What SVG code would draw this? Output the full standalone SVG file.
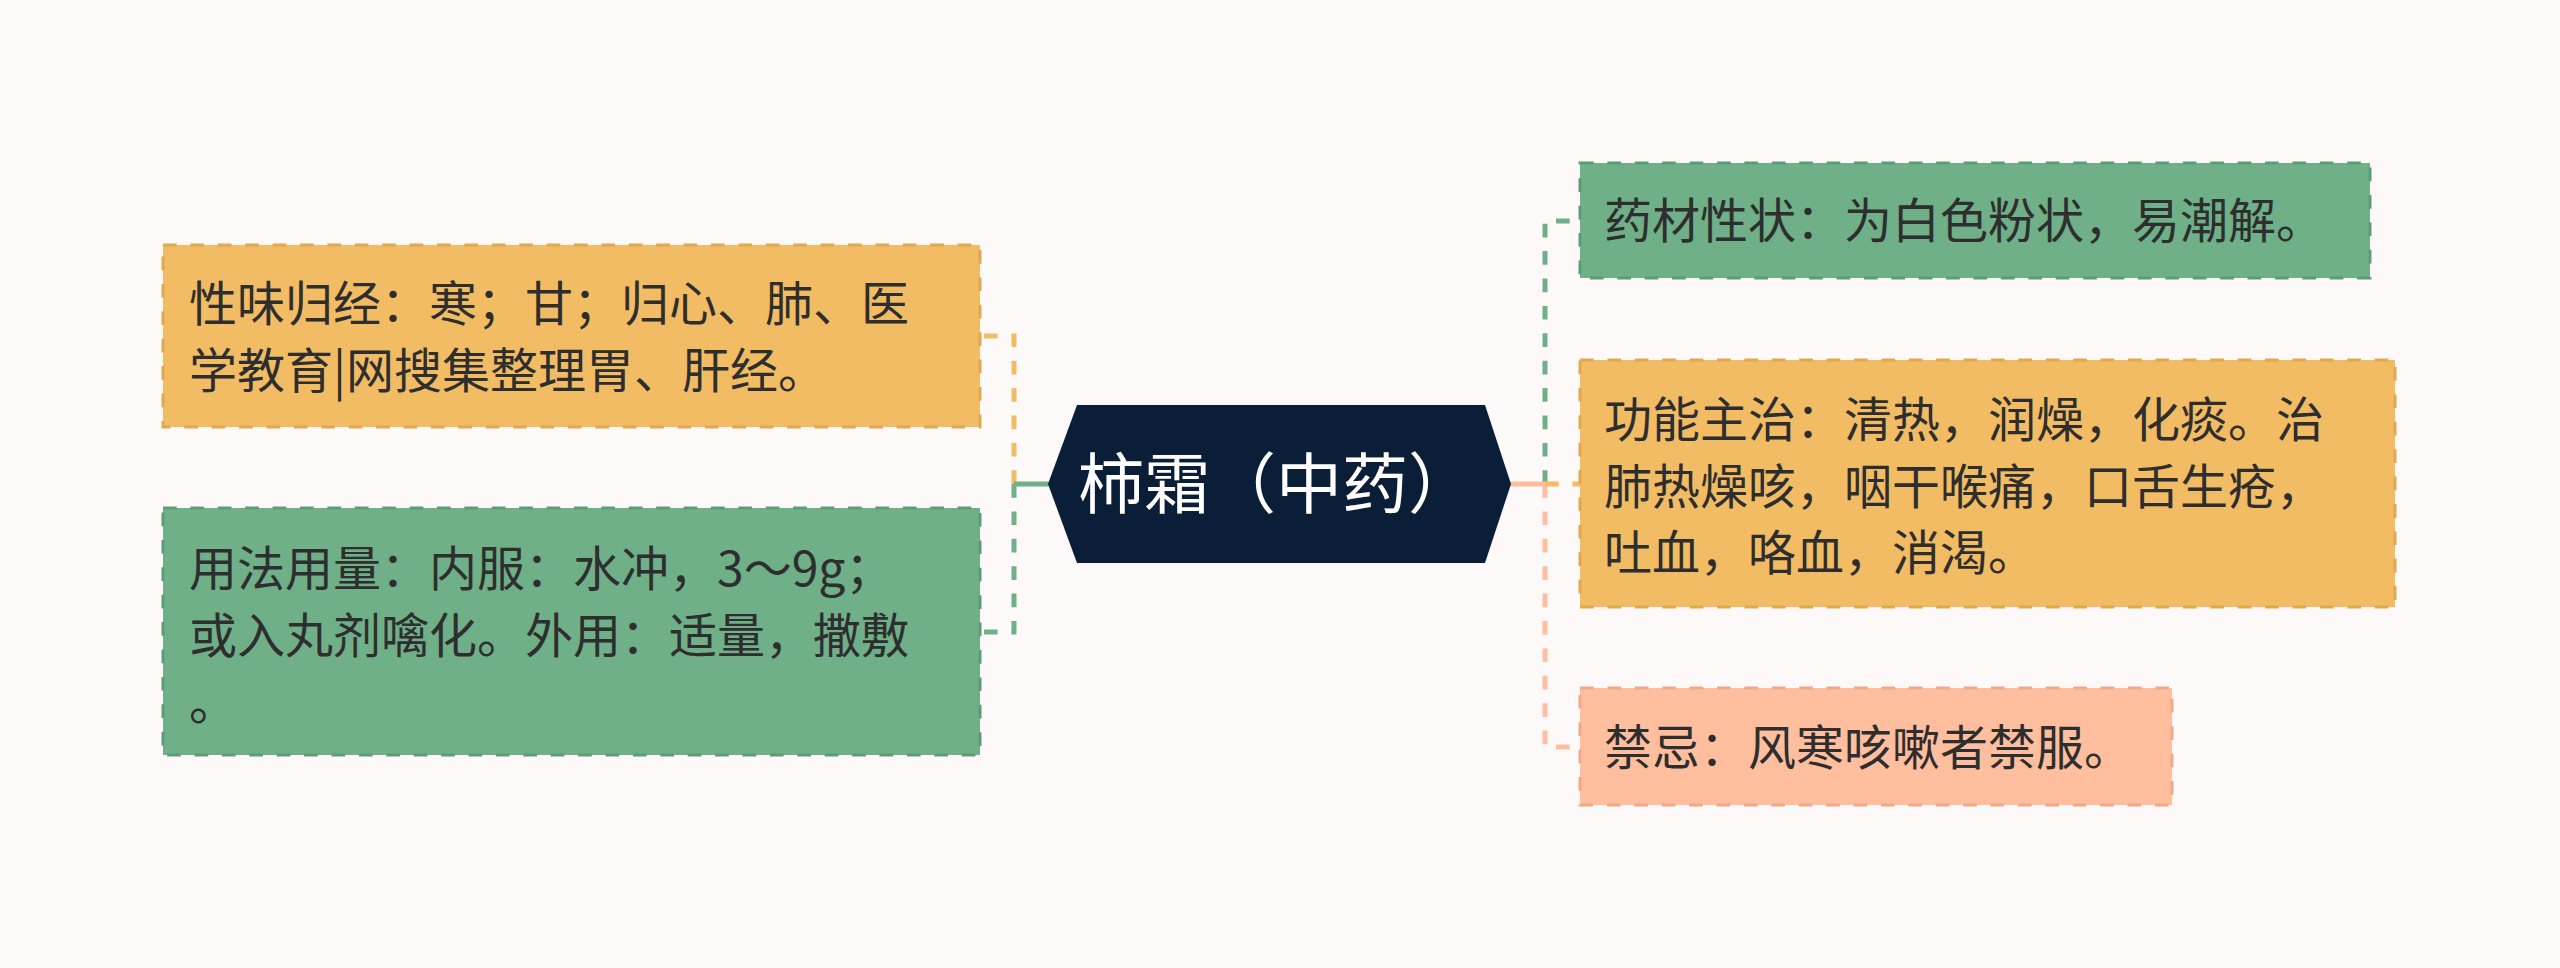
<svg xmlns="http://www.w3.org/2000/svg" width="2560" height="968" viewBox="0 0 2560 968">
<style>
.bg{fill:#fdf9f8}
.box{stroke-width:3;stroke-dasharray:13.7 13.7}
.or{fill:#f1bc63;stroke:#dfa94f}
.gr{fill:#6fb088;stroke:#5c9d76}
.sa{fill:#ffbe9e;stroke:#eeaa88}
.t{font-family:"Noto Sans CJK SC","Noto Sans",sans-serif;font-size:48px;fill:#2e2e2e}
.ct{font-family:"Noto Sans CJK SC","Noto Sans",sans-serif;font-size:66px;fill:#ffffff}
.ln{fill:none;stroke-width:5}
.dl{fill:none;stroke-width:5;stroke-dasharray:13.7 13.7}
</style>
<rect class="bg" x="0" y="0" width="2560" height="968"/>
<g id="connectors">
<path class="dl" stroke="#f1bc63" d="M1014 484 V336 H980"/>
<path class="dl" stroke="#6fb088" d="M1014 484 V632 H980"/>
<path class="ln" stroke="#6fb088" d="M1014 484 H1049"/>
<path class="dl" stroke="#6fb088" d="M1545 484 V221 H1580"/>
<path class="dl" stroke="#ffbe9e" d="M1545 484 V747 H1580"/>
<path class="dl" stroke="#f1bc63" d="M1545 484 H1580"/>
<path class="ln" stroke="#ffbe9e" d="M1510 484 H1545"/>
</g>
<g id="center">
<polygon fill="#0b1e38" points="1048,484 1077,405 1485,405 1511,484 1485,563 1077,563"/>
<text class="ct" x="1078" y="508">柿霜（中药）</text>
</g>
<g id="node-xingwei">
<rect class="box or" x="163" y="245" width="817" height="182"/>
<text class="t" x="189" y="321">性味归经：寒；甘；归心、肺、医</text>
<text class="t" x="189" y="388">学教育|网搜集整理胃、肝经。</text>
</g>
<g id="node-yongfa">
<rect class="box gr" x="163" y="508" width="817" height="247"/>
<text class="t" x="189" y="586">用法用量：内服：水冲，3～9g；</text>
<text class="t" x="189" y="653">或入丸剂噙化。外用：适量，撒敷</text>
<text class="t" x="189" y="720">。</text>
</g>
<g id="node-yaocai">
<rect class="box gr" x="1580" y="163" width="790" height="115"/>
<text class="t" x="1604" y="238">药材性状：为白色粉状，易潮解。</text>
</g>
<g id="node-gongneng">
<rect class="box or" x="1580" y="360" width="815" height="247"/>
<text class="t" x="1604" y="437">功能主治：清热，润燥，化痰。治</text>
<text class="t" x="1604" y="504">肺热燥咳，咽干喉痛，口舌生疮，</text>
<text class="t" x="1604" y="570">吐血，咯血，消渴。</text>
</g>
<g id="node-jinji">
<rect class="box sa" x="1580" y="688" width="592" height="117"/>
<text class="t" x="1604" y="765">禁忌：风寒咳嗽者禁服。</text>
</g>
</svg>
